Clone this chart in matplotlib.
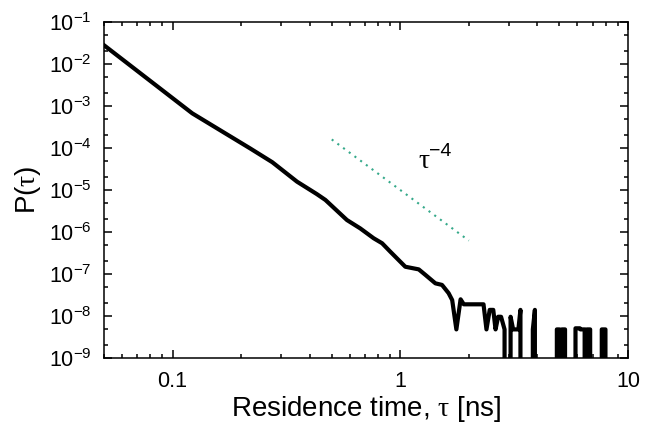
import matplotlib
matplotlib.use('Agg')
import matplotlib.pyplot as plt
from matplotlib.ticker import LogLocator, LogFormatterMathtext, NullFormatter

plt.rcParams['font.family'] = ['Liberation Sans', 'DejaVu Sans']
plt.rcParams['mathtext.fontset'] = 'custom'
plt.rcParams['mathtext.rm'] = 'Liberation Sans'
plt.rcParams['mathtext.it'] = 'Liberation Serif'
plt.rcParams['mathtext.bf'] = 'Liberation Sans:bold'

# residence time distribution (0 = empty bin)
tau = [0.05, 0.122, 0.219, 0.274, 0.352, 0.43, 0.469, 0.583, 0.667, 0.764,
       0.832, 0.904, 1.052, 1.205, 1.29, 1.426, 1.525, 1.63, 1.69, 1.763,
       1.84, 1.9, 2.32, 2.39, 2.47, 2.56, 2.62, 2.69, 2.77, 2.87,
       2.95, 3.05, 3.13, 3.30, 3.37, 3.45, 3.75, 3.82, 3.90, 3.98,
       4.83, 4.87, 5.0, 5.03, 5.08, 5.12, 5.29, 5.32, 5.85, 5.88,
       6.15, 6.18, 6.45, 6.50, 6.55, 6.59, 6.82, 6.86, 7.63, 7.67,
       7.96, 8.0]
prob = [2.8e-2, 6.7e-4, 9.8e-5, 4.6e-5, 1.58e-5, 8.0e-6, 5.8e-6, 1.93e-6, 1.22e-6, 7.1e-7,
        5.4e-7, 3.4e-7, 1.49e-7, 1.29e-7, 9.5e-8, 6.0e-8, 5.5e-8, 3.5e-8, 2.4e-8, 4.8e-9,
        2.5e-8, 1.9e-8, 1.9e-8, 4.8e-9, 1.4e-8, 1.4e-8, 4.8e-9, 9.6e-9, 9.6e-9, 4.8e-9,
        0, 9.6e-9, 4.8e-9, 4.8e-9, 1.4e-8, 0, 0, 4.8e-9, 1.4e-8, 0,
        0, 4.8e-9, 4.8e-9, 0, 0, 4.8e-9, 4.8e-9, 0, 0, 5.1e-9,
        5.1e-9, 4.8e-9, 4.8e-9, 0, 0, 4.8e-9, 4.8e-9, 0, 0, 4.8e-9,
        4.8e-9, 0]

# tau^-4 guide line end points
guide_x = [0.5, 2.0]
guide_y = [1.6e-4, 6.25e-7]

xtick_vals = [0.1, 1, 10]
xtick_labels = ['0.1', '1', '10']

fig = plt.figure(figsize=(6.55, 4.30), dpi=100)
ax = fig.add_axes([0.1588, 0.1674, 0.800, 0.7814])

ax.plot(tau, prob, color='black', lw=3.0, solid_joinstyle='round')
ax.plot(guide_x, guide_y, color='#35a98a', lw=1.5, linestyle=(0, (1, 2.4)))

ax.set_xscale('log')
ax.set_yscale('log', nonpositive='clip')
ax.set_xlim(0.05, 10)
ax.set_ylim(1e-9, 1e-1)

ax.set_xticks(xtick_vals, labels=xtick_labels)
ax.xaxis.set_minor_locator(LogLocator(base=10, subs=range(2, 10), numticks=20))
ax.xaxis.set_minor_formatter(NullFormatter())
ax.yaxis.set_major_locator(LogLocator(base=10, numticks=20))
ax.yaxis.set_major_formatter(LogFormatterMathtext())
ax.yaxis.set_minor_locator(LogLocator(base=10, subs=(2, 5), numticks=20))
ax.yaxis.set_minor_formatter(NullFormatter())

ax.tick_params(which='both', direction='in', top=True, right=True, width=1.1)
ax.tick_params(which='major', length=5.8, labelsize=15.5, pad=9)
ax.tick_params(which='minor', length=2.9)
for s in ax.spines.values():
    s.set_linewidth(1.1)

ax.set_xlabel(r'Residence time, $\tau$ [ns]', fontsize=20, labelpad=2)
ax.set_ylabel(r'P($\tau$)', fontsize=20, labelpad=4)

# tau^-4 label
ax.text(1.2, 3.3e-5, 'τ', fontsize=20, family='Liberation Serif')
ax.annotate('\u22124', xy=(1.2, 3.3e-5), xytext=(7.5, 8.5), textcoords='offset points',
            fontsize=14)

fig.savefig('out.png', dpi=100)
